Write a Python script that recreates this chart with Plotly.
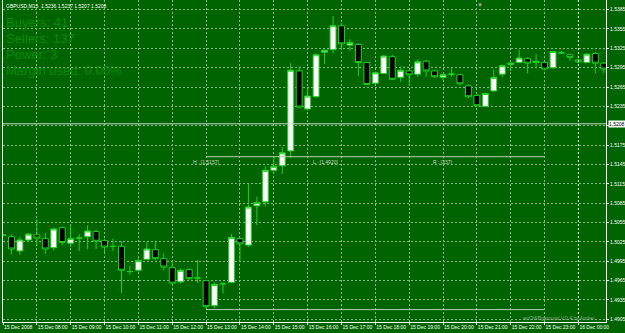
import plotly.graph_objects as go

# ---------------- data ----------------
symbol_title = "GBPUSD,M15  1.5236 1.5237 1.5207 1.5208"

hour_bar_index = [0, 4, 8, 12, 16, 20, 24, 28, 32, 36, 40, 44, 48, 52, 56, 60, 64, 68]
hour_labels = ["15 Dec 2008", "15 Dec 08:00", "15 Dec 09:00", "15 Dec 10:00", "15 Dec 11:00",
               "15 Dec 12:00", "15 Dec 13:00", "15 Dec 14:00", "15 Dec 15:00", "15 Dec 16:00",
               "15 Dec 17:00", "15 Dec 18:00", "15 Dec 19:00", "15 Dec 20:00", "15 Dec 21:00",
               "15 Dec 22:00", "15 Dec 23:00", "16 Dec 00:00"]

open_ = [1.5036, 1.5033, 1.5011, 1.5028, 1.5036, 1.5030, 1.5016, 1.5047, 1.5023, 1.5031,
         1.5033, 1.5041, 1.5027, 1.5018, 1.5018, 1.4979, 1.4981, 1.4998, 1.5013, 1.4999,
         1.4985, 1.4963, 1.4982, 1.4969, 1.4965, 1.4926, 1.4960, 1.4962, 1.5030, 1.5020,
         1.5081, 1.5087, 1.5136, 1.5143, 1.5166, 1.5290, 1.5231, 1.5250, 1.5319, 1.5323,
         1.5360, 1.5330, 1.5331, 1.5303, 1.5271, 1.5286, 1.5312, 1.5280, 1.5290, 1.5285,
         1.5305, 1.5290, 1.5280, 1.5285, 1.5284, 1.5267, 1.5252, 1.5235, 1.5259, 1.5285,
         1.5300, 1.5303, 1.5309, 1.5303, 1.5303, 1.5295, 1.5318, 1.5315, 1.5307, 1.5303,
         1.5317, 1.5302]
high = [1.5037, 1.5037, 1.5033, 1.5039, 1.5060, 1.5039, 1.5047, 1.5049, 1.5051, 1.5037,
        1.5051, 1.5044, 1.5030, 1.5030, 1.5026, 1.4988, 1.5001, 1.5025, 1.5027, 1.5007,
        1.4996, 1.4984, 1.4984, 1.4997, 1.4966, 1.4962, 1.4962, 1.5037, 1.5032, 1.5115,
        1.5095, 1.5142, 1.5157, 1.5172, 1.5302, 1.5297, 1.5263, 1.5317, 1.5323, 1.5375,
        1.5364, 1.5339, 1.5333, 1.5304, 1.5289, 1.5315, 1.5315, 1.5297, 1.5291, 1.5308,
        1.5307, 1.5291, 1.5285, 1.5294, 1.5285, 1.5269, 1.5254, 1.5256, 1.5292, 1.5300,
        1.5304, 1.5323, 1.5311, 1.5316, 1.5305, 1.5321, 1.5321, 1.5317, 1.5309, 1.5317,
        1.5319, 1.5303]
low = [1.5034, 1.5006, 1.5005, 1.5025, 1.5018, 1.5006, 1.5012, 1.5020, 1.5017, 1.5011,
       1.5014, 1.5014, 1.5009, 1.5011, 1.4946, 1.4974, 1.4979, 1.4997, 1.4997, 1.4981,
       1.4958, 1.4960, 1.4966, 1.4961, 1.4920, 1.4922, 1.4945, 1.4961, 1.4994, 1.5017,
       1.5051, 1.5080, 1.5131, 1.5130, 1.5155, 1.5233, 1.5229, 1.5249, 1.5301, 1.5317,
       1.5322, 1.5321, 1.5282, 1.5268, 1.5270, 1.5285, 1.5276, 1.5273, 1.5267, 1.5281,
       1.5281, 1.5279, 1.5276, 1.5281, 1.5268, 1.5248, 1.5235, 1.5234, 1.5257, 1.5280,
       1.5290, 1.5302, 1.5286, 1.5294, 1.5291, 1.5293, 1.5316, 1.5306, 1.5302, 1.5302,
       1.5286, 1.5287]
close = [1.5035, 1.5014, 1.5028, 1.5037, 1.5031, 1.5014, 1.5045, 1.5024, 1.5030, 1.5031,
         1.5042, 1.5026, 1.5017, 1.5018, 1.4981, 1.4979, 1.4996, 1.5014, 1.4999, 1.4986,
         1.4961, 1.4981, 1.4968, 1.4969, 1.4925, 1.4959, 1.4960, 1.5032, 1.5022, 1.5079,
         1.5086, 1.5136, 1.5142, 1.5163, 1.5291, 1.5234, 1.5251, 1.5315, 1.5322, 1.5360,
         1.5332, 1.5334, 1.5303, 1.5269, 1.5287, 1.5313, 1.5277, 1.5291, 1.5284, 1.5304,
         1.5290, 1.5281, 1.5284, 1.5285, 1.5270, 1.5250, 1.5236, 1.5255, 1.5280, 1.5298,
         1.5302, 1.5310, 1.5302, 1.5305, 1.5293, 1.5320, 1.5318, 1.5311, 1.5304, 1.5316,
         1.5302, 1.5293]

price_ticks = [1.4905, 1.4935, 1.4965, 1.4995, 1.5025, 1.5055, 1.5085, 1.5115, 1.5145,
               1.5175, 1.5205, 1.5235, 1.5265, 1.5295, 1.5325, 1.5355, 1.5385]
price_tick_labels = ["1.4905", "1.4935", "1.4965", "1.4995", "1.5025", "1.5055", "1.5085",
                     "1.5115", "1.5145", "1.5175", "", "1.5235", "1.5265", "1.5295",
                     "1.5325", "1.5355", "1.5385"]

current_price = 1.5208
range_high = 1.5157
range_low = 1.4920
range_points = 237
range_start_bar = 24
range_end_bar = 64
day_separator_bar = 68

info_lines = ["Buyers: 41", "Sellers: 137", "Power: 3", "Margin used: 0.00%"]
footer_text = "arrOWBgaround V.0.4 by Andrei"

# ---------------- style ----------------
BG = "#006400"
GRID = "#8ab88a"
WICK = "#22d022"
AXIS = "#ffffff"
FONT = "Liberation Sans"

bars = list(range(len(open_)))

fig = go.Figure(go.Candlestick(
    x=bars, open=open_, high=high, low=low, close=close,
    increasing=dict(line=dict(color=WICK, width=1), fillcolor="#ffffff"),
    decreasing=dict(line=dict(color=WICK, width=1), fillcolor="#000000"),
    whiskerwidth=0, hoverinfo="skip",
))

fig.update_layout(
    width=625, height=333,
    margin=dict(l=3, r=19, t=0, b=11),
    paper_bgcolor=BG, plot_bgcolor=BG,
    showlegend=False,
    boxgap=0,
    font=dict(family=FONT, size=5, color=AXIS),
    xaxis=dict(
        range=[0, 71.26], rangeslider=dict(visible=False),
        tickvals=hour_bar_index, ticktext=hour_labels, tickangle=0,
        ticklabelposition="outside right",
        showgrid=True, gridcolor=GRID, griddash="2px,2px", gridwidth=1,
        ticks="outside", ticklen=2, tickcolor=AXIS,
        showline=True, linecolor=AXIS, linewidth=1,
        zeroline=False, tickfont=dict(size=5, color=AXIS, family=FONT),
    ),
    yaxis=dict(
        side="right", range=[1.49008, 1.53999],
        tickvals=price_ticks, ticktext=price_tick_labels,
        showgrid=True, gridcolor=GRID, griddash="2px,2px", gridwidth=1,
        ticks="outside", ticklen=2, tickcolor=AXIS,
        showline=True, mirror=True, linecolor=AXIS, linewidth=1,
        zeroline=False, tickfont=dict(size=5, color=AXIS, family=FONT),
    ),
)

# current price line
fig.add_shape(type="line", xref="paper", x0=0, x1=1, y0=current_price, y1=current_price,
              line=dict(color="#c8d8c8", width=1))
# day separator
fig.add_shape(type="line", x0=day_separator_bar, x1=day_separator_bar, yref="paper", y0=0, y1=1,
              line=dict(color="#e6eee6", width=1, dash="2px,2px"))
# range high / low lines
for lvl in (range_high, range_low):
    fig.add_shape(type="line", x0=range_start_bar, x1=range_end_bar, y0=lvl, y1=lvl,
                  line=dict(color="#b8ccb8", width=1))

range_labels = ["H : [%.4f]" % range_high, "L : [%.4f]" % range_low, "R : [%d]" % range_points]
for k, t in enumerate(range_labels):
    fig.add_annotation(x=range_start_bar - 1.8 + 14.2 * k, y=range_high, text=t, showarrow=False,
                       xanchor="left", yanchor="top", yshift=-0.5,
                       font=dict(size=5, color="#c8d8c8", family=FONT))

# title
fig.add_annotation(xref="paper", yref="paper", x=0, y=1, xshift=1, yshift=-1,
                   xanchor="left", yanchor="top", text=symbol_title, showarrow=False,
                   font=dict(size=5, color="#ffffff", family=FONT))

# info lines
for k, t in enumerate(info_lines):
    fig.add_annotation(xref="paper", yref="paper", x=0, y=1, xshift=1, yshift=-22.7 - 15.8 * k,
                       xanchor="left", yanchor="middle", text=t, showarrow=False,
                       font=dict(size=13, color="#0c8a0c", family=FONT))

# current price box on axis
fig.add_annotation(xref="paper", x=1, y=current_price, xanchor="left", yanchor="middle", xshift=2,
                   text="%.4f" % current_price, showarrow=False, bgcolor="#ffffff", borderpad=0,
                   font=dict(size=5, color="#000000", family=FONT))

# footer
fig.add_annotation(xref="paper", yref="paper", x=0.859, y=0, yshift=4, xanchor="left",
                   yanchor="middle", text=footer_text, showarrow=False,
                   font=dict(size=5, color="#8aaa8a", family=FONT))

# chart shift marker
fig.add_annotation(xref="paper", yref="paper", x=0.799, y=1, yanchor="top", text="▼",
                   showarrow=False, font=dict(size=6, color="#a8a8a8", family=FONT))

fig.write_html("out.html", config={"displayModeBar": False})
